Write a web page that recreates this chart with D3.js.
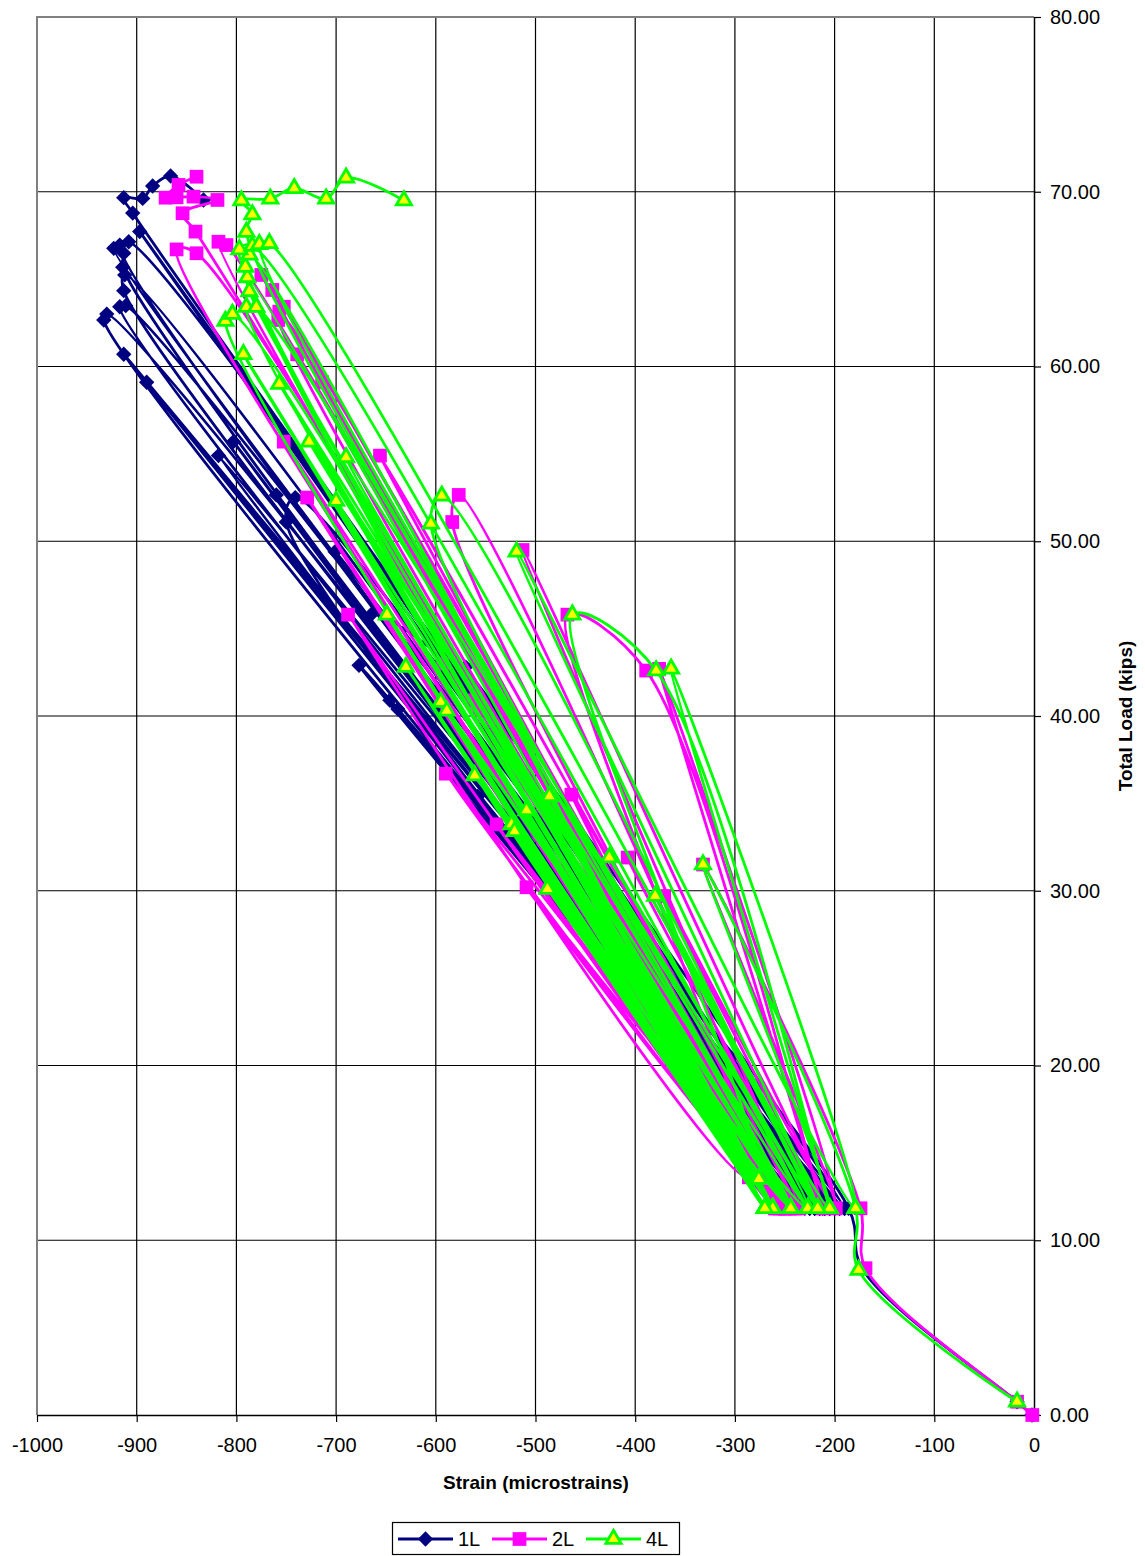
<!DOCTYPE html>
<html>
  <head>
    <meta charset="utf-8">
    <title>Strain vs Total Load</title>
    <script src="https://d3js.org/d3.v7.min.js"></script>
    <style>
      body { margin: 0; background: #fff; }
      svg { font-family: "Liberation Sans", Arial, sans-serif; }
    </style>
  </head>
  <body>
    <svg id="chart" width="1145" height="1556"></svg>
    <script>
      // data: [strain (microstrains), total load (kips)] in test order
      const series1L = [
        [-2, 0], [-17, 0.76], [-172, 8.35], [-186, 11.83],
        [-467, 31.5], [-190, 11.83], [-474, 29.95], [-195, 11.83],
        [-496, 31.95], [-200, 11.83], [-473, 30.3], [-205, 11.83],
        [-558, 35.4], [-210, 11.83], [-553, 34.7], [-215, 11.83],
        [-646, 40.9], [-220, 11.83], [-638, 40.4], [-225, 11.83],
        [-677, 42.9], [-229.5, 13.64], [-665, 45.8], [-580, 42.6], [-205, 11.83],
        [-570, 42.8], [-190, 11.83], [-701, 49.4], [-215, 11.83],
        [-760, 52.65], [-220, 11.83], [-750, 51.1], [-741, 52.5], [-225, 11.83],
        [-803, 55.7], [-230, 11.83], [-818, 54.9], [-200, 11.83],
        [-890, 59.1], [-210, 11.83], [-913, 60.7], [-220, 11.83],
        [-933, 62.66], [-930, 63.0], [-212, 11.83],
        [-917, 63.42], [-911, 63.48], [-205, 11.83],
        [-913, 64.34], [-912, 65.24], [-215, 11.83],
        [-914, 65.68], [-913, 66.48], [-923, 66.76], [-200, 11.83],
        [-917, 66.95], [-908, 67.14], [-210, 11.83],
        [-897, 67.72], [-195, 11.83],
        [-904, 68.78], [-913, 69.66], [-894, 69.62], [-884, 70.33], [-866, 70.9], [-833, 69.53]
      ];
      const series2L = [
        [-1.7, 0], [-17, 0.76], [-169, 8.4], [-174, 11.83],
        [-332, 31.5], [-199, 11.83], [-371, 29.7], [-212, 11.83],
        [-407.5, 31.9], [-235.5, 11.83], [-509, 30.2], [-249, 11.83],
        [-464, 35.5], [-259, 11.83], [-483, 34.7], [-250, 11.83],
        [-539, 33.8], [-245, 11.83], [-590, 36.7], [-255, 11.83],
        [-561, 40.9], [-250, 11.83], [-556, 40.4], [-240, 11.83],
        [-593.5, 43.0], [-260, 11.83], [-688, 45.8], [-286, 13.6],
        [-468, 45.8], [-389, 42.6], [-212, 11.83], [-376, 42.7], [-199, 11.83],
        [-513, 49.5], [-236, 11.83], [-577, 52.65], [-583.5, 51.1], [-249, 11.83],
        [-729, 52.5], [-259, 11.83], [-656, 54.9], [-240, 11.83],
        [-752.5, 55.7], [-255, 11.83], [-714, 59.1], [-245, 11.83],
        [-739, 60.7], [-250, 11.83], [-758, 62.66], [-757, 63.14], [-240, 11.83],
        [-752.5, 63.42], [-764, 64.38], [-255, 11.83], [-775, 65.24], [-250, 11.83],
        [-810, 66.95], [-818, 67.14], [-260, 11.83], [-840, 66.48], [-860, 66.7], [-245, 11.83],
        [-841, 67.72], [-854, 68.77], [-819, 69.53], [-843, 69.72], [-860, 69.68],
        [-871, 69.66], [-858, 70.39], [-840, 70.86]
      ];
      const series4L = [
        [-17, 0.76], [-176, 8.3], [-179, 11.83],
        [-332, 31.5], [-205, 11.83], [-380, 29.7], [-217, 11.83],
        [-426, 31.9], [-227, 11.83], [-488, 30.1], [-244, 11.83],
        [-486, 35.4], [-262, 11.83], [-509, 34.6], [-270, 11.83],
        [-524, 33.8], [-521, 33.4], [-262, 11.83], [-561, 36.6], [-270, 11.83],
        [-595, 40.8], [-244, 11.83], [-589, 40.3], [-262, 11.83],
        [-630, 42.8], [-270, 11.83], [-649, 45.8], [-276, 13.5],
        [-463, 45.8], [-379, 42.6], [-205, 11.83], [-364, 42.7], [-179, 11.83],
        [-519, 49.4], [-217, 11.83], [-594, 52.6], [-605, 51.0], [-244, 11.83],
        [-700, 52.3], [-262, 11.83], [-690, 54.8], [-227, 11.83],
        [-727, 55.7], [-244, 11.83], [-757, 59.0], [-262, 11.83],
        [-793, 60.7], [-270, 11.83], [-811, 62.6], [-804, 63.0], [-262, 11.83],
        [-790, 63.4], [-780, 63.4], [-244, 11.83], [-787, 64.3], [-789, 65.1], [-262, 11.83],
        [-791, 65.7], [-787, 66.4], [-270, 11.83], [-797, 66.7], [-784, 66.9], [-227, 11.83],
        [-777, 67.0], [-767, 67.05], [-217, 11.83],
        [-790, 67.7], [-784, 68.7], [-795, 69.5], [-766, 69.6], [-742, 70.2],
        [-710, 69.6], [-690, 70.8], [-632, 69.5]
      ];
      const seriesNames = ["1L", "2L", "4L"];
      const xTicks = d3.range(-1000, 1, 100);
      const yTicks = d3.range(0, 81, 10);

      const svg = d3.select("#chart");
      const plotLeft = 37, plotRight = 1034, plotTop = 17, plotBottom = 1415;
      const x = d3.scaleLinear().domain([-1000, 0]).range([plotLeft, plotRight]);
      const y = d3.scaleLinear().domain([0, 80]).range([plotBottom, plotTop]);

      // grid
      const grid = svg.append("g");
      grid.selectAll(".vgrid")
          .data(xTicks.filter(d => d > -1000 && d < 0))
        .enter().append("line")
          .attr("x1", d => x(d)).attr("x2", d => x(d))
          .attr("y1", plotTop).attr("y2", plotBottom)
          .attr("stroke", "#000").attr("stroke-width", 1.2);
      grid.selectAll(".hgrid")
          .data(yTicks.filter(d => d > 0 && d < 80))
        .enter().append("line")
          .attr("x1", plotLeft).attr("x2", plotRight)
          .attr("y1", d => y(d)).attr("y2", d => y(d))
          .attr("stroke", "#000").attr("stroke-width", 1.2);
      // plot border (left + top in grey)
      svg.append("path")
        .attr("d", `M${plotLeft},${plotBottom}V${plotTop}H${plotRight}`)
        .attr("fill", "none").attr("stroke", "#808080").attr("stroke-width", 2);

      // axes
      const xAxis = d3.axisBottom(x).tickValues(xTicks).tickSize(7).tickSizeOuter(0).tickFormat(d => String(d));
      const gx = svg.append("g").attr("transform", `translate(0,${plotBottom})`).call(xAxis);
      gx.select(".domain").attr("stroke", "#000").attr("stroke-width", 1.5);
      gx.selectAll(".tick line").attr("stroke", "#000").attr("stroke-width", 1.2);
      gx.selectAll("text").attr("font-size", 20).attr("fill", "#000").attr("dy", "0.71em")
        .attr("y", 23);

      const yAxis = d3.axisRight(y).tickValues(yTicks).tickSize(7).tickSizeOuter(0).tickFormat(d3.format(".2f"));
      const gy = svg.append("g").attr("transform", `translate(${plotRight},0)`).call(yAxis);
      gy.select(".domain").attr("stroke", "#000").attr("stroke-width", 1.5);
      gy.selectAll(".tick line").attr("stroke", "#000").attr("stroke-width", 1.2);
      gy.selectAll("text").attr("font-size", 20).attr("fill", "#000").attr("x", 16);

      svg.append("text")
        .attr("x", 536).attr("y", 1489)
        .attr("text-anchor", "middle").attr("font-size", 19).attr("font-weight", "bold")
        .text("Strain (microstrains)");
      svg.append("text")
        .attr("transform", "translate(1132,716) rotate(-90)")
        .attr("text-anchor", "middle").attr("font-size", 19).attr("font-weight", "bold")
        .text("Total Load (kips)");

      // series - smoothed lines like the spreadsheet's
      const line = d3.line()
        .x(d => x(d[0])).y(d => y(d[1]))
        .curve(d3.curveCatmullRom.alpha(0.5));

      const styles = {
        "1L": { stroke: "#000080", fill: "#000080", mstroke: "#000080", sym: d3.symbolDiamond2, size: 150, sw: 0 },
        "2L": { stroke: "#FF00FF", fill: "#FF00FF", mstroke: "#FF00FF", sym: d3.symbolSquare2, size: 240, sw: 0 },
        "4L": { stroke: "#00FF00", fill: "#FFFF00", mstroke: "#00FF00", sym: d3.symbolTriangle2, size: 165, sw: 2.8 }
      };
      const allData = [series1L, series2L, series4L];

      const plot = svg.append("g");
      allData.forEach(function(data, i) {
        let s = styles[seriesNames[i]];
        let g = plot.append("g");
        g.append("path")
          .datum(data)
          .attr("d", line)
          .attr("fill", "none")
          .attr("stroke", s.stroke)
          .attr("stroke-width", 2.8);
        g.selectAll(".pt")
            .data(data)
          .enter().append("path")
            .attr("d", d3.symbol().type(s.sym).size(s.size))
            .attr("transform", d => `translate(${x(d[0])},${y(d[1])})`)
            .attr("fill", s.fill)
            .attr("stroke", s.mstroke)
            .attr("stroke-width", s.sw);
      });

      // legend
      const legend = svg.append("g");
      legend.append("rect")
        .attr("x", 392.5).attr("y", 1522.5).attr("width", 287).attr("height", 32)
        .attr("fill", "#fff").attr("stroke", "#000").attr("stroke-width", 1.2);
      seriesNames.forEach(function(name, i) {
        let s = styles[name];
        let x0 = 398 + i * 94;
        let cy = 1539;
        legend.append("line")
          .attr("x1", x0).attr("x2", x0 + 55).attr("y1", cy).attr("y2", cy)
          .attr("stroke", s.stroke).attr("stroke-width", 2.8);
        legend.append("path")
          .attr("d", d3.symbol().type(s.sym).size(s.size))
          .attr("transform", `translate(${x0 + 27.5},${cy})`)
          .attr("fill", s.fill).attr("stroke", s.mstroke).attr("stroke-width", s.sw);
        legend.append("text")
          .attr("x", x0 + 60).attr("y", cy + 7)
          .attr("font-size", 20).text(name);
      });
    </script>
  </body>
</html>
